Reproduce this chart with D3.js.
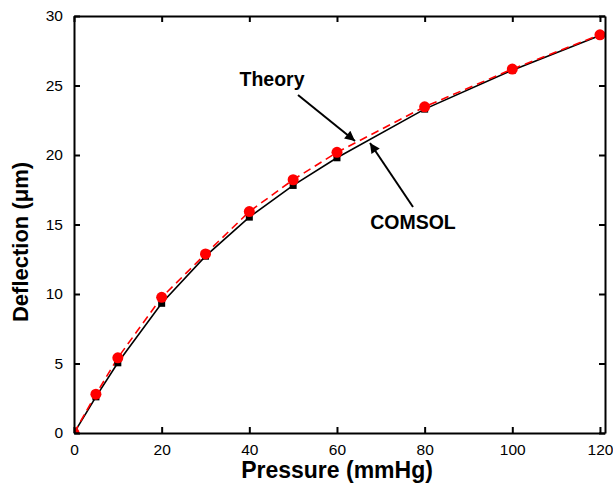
<!DOCTYPE html>
<html>
<head>
<meta charset="utf-8">
<script src="https://cdn.jsdelivr.net/npm/d3@7"></script>
<style>
  body { margin: 0; background: #fff; }
  svg { font-family: Arial, "Liberation Sans", sans-serif; }
</style>
</head>
<body>
<div id="chart"></div>
<script>
// pressure values (mmHg)
const pressure = [0, 5, 10, 20, 30, 40, 50, 60, 80, 100, 120];
// deflection (um)
const theory = [0, 2.79, 5.41, 9.76, 12.88, 15.93, 18.22, 20.19, 23.47, 26.18, 28.65];
const comsol = [0, 2.6, 5.05, 9.33, 12.72, 15.53, 17.81, 19.8, 23.3, 26.1, 28.6];
const xTicks = [0, 20, 40, 60, 80, 100, 120];
const yTicks = [0, 5, 10, 15, 20, 25, 30];

const width = 613, height = 499;
const plotLeft = 74, plotRight = 605, plotTop = 16, plotBottom = 433;

const svg = d3.select('#chart').append('svg')
  .attr('width', width)
  .attr('height', height);

const x = d3.scaleLinear().domain([0, 121.15]).range([plotLeft, plotRight]);
const y = d3.scaleLinear().domain([0, 30]).range([plotBottom, plotTop]);

const theoryData = pressure.map((p, i) => ({ p, v: theory[i] }));
const comsolData = pressure.map((p, i) => ({ p, v: comsol[i] }));

const defs = svg.append('defs');

// clip to the frame so the origin marker gets cut
defs.append('clipPath').attr('id', 'plot')
  .append('rect')
  .attr('x', plotLeft).attr('y', plotTop)
  .attr('width', plotRight - plotLeft).attr('height', plotBottom - plotTop);

const g = svg.append('g').attr('clip-path', 'url(#plot)');

const line = d3.line().x(d => x(d.p)).y(d => y(d.v));

g.append('path')
  .datum(comsolData)
  .attr('d', line)
  .attr('fill', 'none')
  .attr('stroke', '#000')
  .attr('stroke-width', 1.6);

g.append('path')
  .datum(theoryData)
  .attr('d', line)
  .attr('fill', 'none')
  .attr('stroke', '#f00')
  .attr('stroke-width', 1.6)
  .attr('stroke-dasharray', '8,5');

// squares (COMSOL)
g.selectAll('rect.sq')
  .data(comsolData)
  .enter()
  .append('rect')
  .attr('class', 'sq')
  .attr('x', d => x(d.p) - 3.5)
  .attr('y', d => y(d.v) - 3.5)
  .attr('width', 7)
  .attr('height', 7)
  .attr('fill', '#000');

// circles (Theory)
g.selectAll('circle')
  .data(theoryData)
  .enter()
  .append('circle')
  .attr('cx', d => x(d.p))
  .attr('cy', d => y(d.v))
  .attr('r', 5.5)
  .attr('fill', '#f00');

// axes, ticks pointing inward, mirrored on top / right
const tickLen = 6;
svg.append('g')
  .attr('transform', `translate(0,${plotBottom})`)
  .call(d3.axisBottom(x).tickValues(xTicks).tickSizeInner(-tickLen).tickSizeOuter(0).tickPadding(11))
  .call(a => a.selectAll('text').attr('dy', '0.71em'));
svg.append('g')
  .attr('transform', `translate(0,${plotTop})`)
  .call(d3.axisTop(x).tickValues(xTicks).tickSizeInner(-tickLen).tickSizeOuter(0).tickFormat(''));
svg.append('g')
  .attr('transform', `translate(${plotLeft},0)`)
  .call(d3.axisLeft(y).tickValues(yTicks).tickSizeInner(-tickLen).tickSizeOuter(0).tickPadding(11));
svg.append('g')
  .attr('transform', `translate(${plotRight},0)`)
  .call(d3.axisRight(y).tickValues(yTicks).tickSizeInner(-tickLen).tickSizeOuter(0).tickFormat(''));

svg.selectAll('.domain').attr('stroke', '#000').attr('stroke-width', 2);
svg.selectAll('.tick line').attr('stroke', '#000').attr('stroke-width', 2);
svg.selectAll('.tick text')
  .style('font-size', '15.5px')
  .style('font-family', 'Arial, "Liberation Sans", sans-serif')
  .attr('fill', '#000');

// axis titles
svg.append('text')
  .attr('x', 337)
  .attr('y', 478)
  .attr('text-anchor', 'middle')
  .style('font-size', '23px')
  .style('font-weight', 'bold')
  .text('Pressure (mmHg)');

svg.append('text')
  .attr('transform', 'translate(28,242) rotate(-90)')
  .attr('text-anchor', 'middle')
  .style('font-size', '22px')
  .style('font-weight', 'bold')
  .text('Deflection (\u03bcm)');

// annotations
defs.append('marker')
  .attr('id', 'head')
  .attr('viewBox', '0 0 10 10')
  .attr('refX', 10).attr('refY', 5)
  .attr('markerWidth', 7).attr('markerHeight', 5)
  .attr('markerUnits', 'strokeWidth')
  .attr('orient', 'auto')
  .append('path')
  .attr('d', 'M0,0 L10,5 L0,10 Z')
  .attr('fill', '#000');

svg.append('text')
  .attr('x', 272).attr('y', 86)
  .attr('text-anchor', 'middle')
  .style('font-size', '19.5px')
  .style('font-weight', 'bold')
  .text('Theory');

svg.append('line')
  .attr('x1', 298).attr('y1', 95)
  .attr('x2', 355).attr('y2', 141)
  .attr('stroke', '#000').attr('stroke-width', 2)
  .attr('marker-end', 'url(#head)');

svg.append('text')
  .attr('x', 413).attr('y', 229)
  .attr('text-anchor', 'middle')
  .style('font-size', '19.5px')
  .style('font-weight', 'bold')
  .text('COMSOL');

svg.append('line')
  .attr('x1', 413).attr('y1', 207)
  .attr('x2', 370).attr('y2', 143)
  .attr('stroke', '#000').attr('stroke-width', 2)
  .attr('marker-end', 'url(#head)');
</script>
</body>
</html>
